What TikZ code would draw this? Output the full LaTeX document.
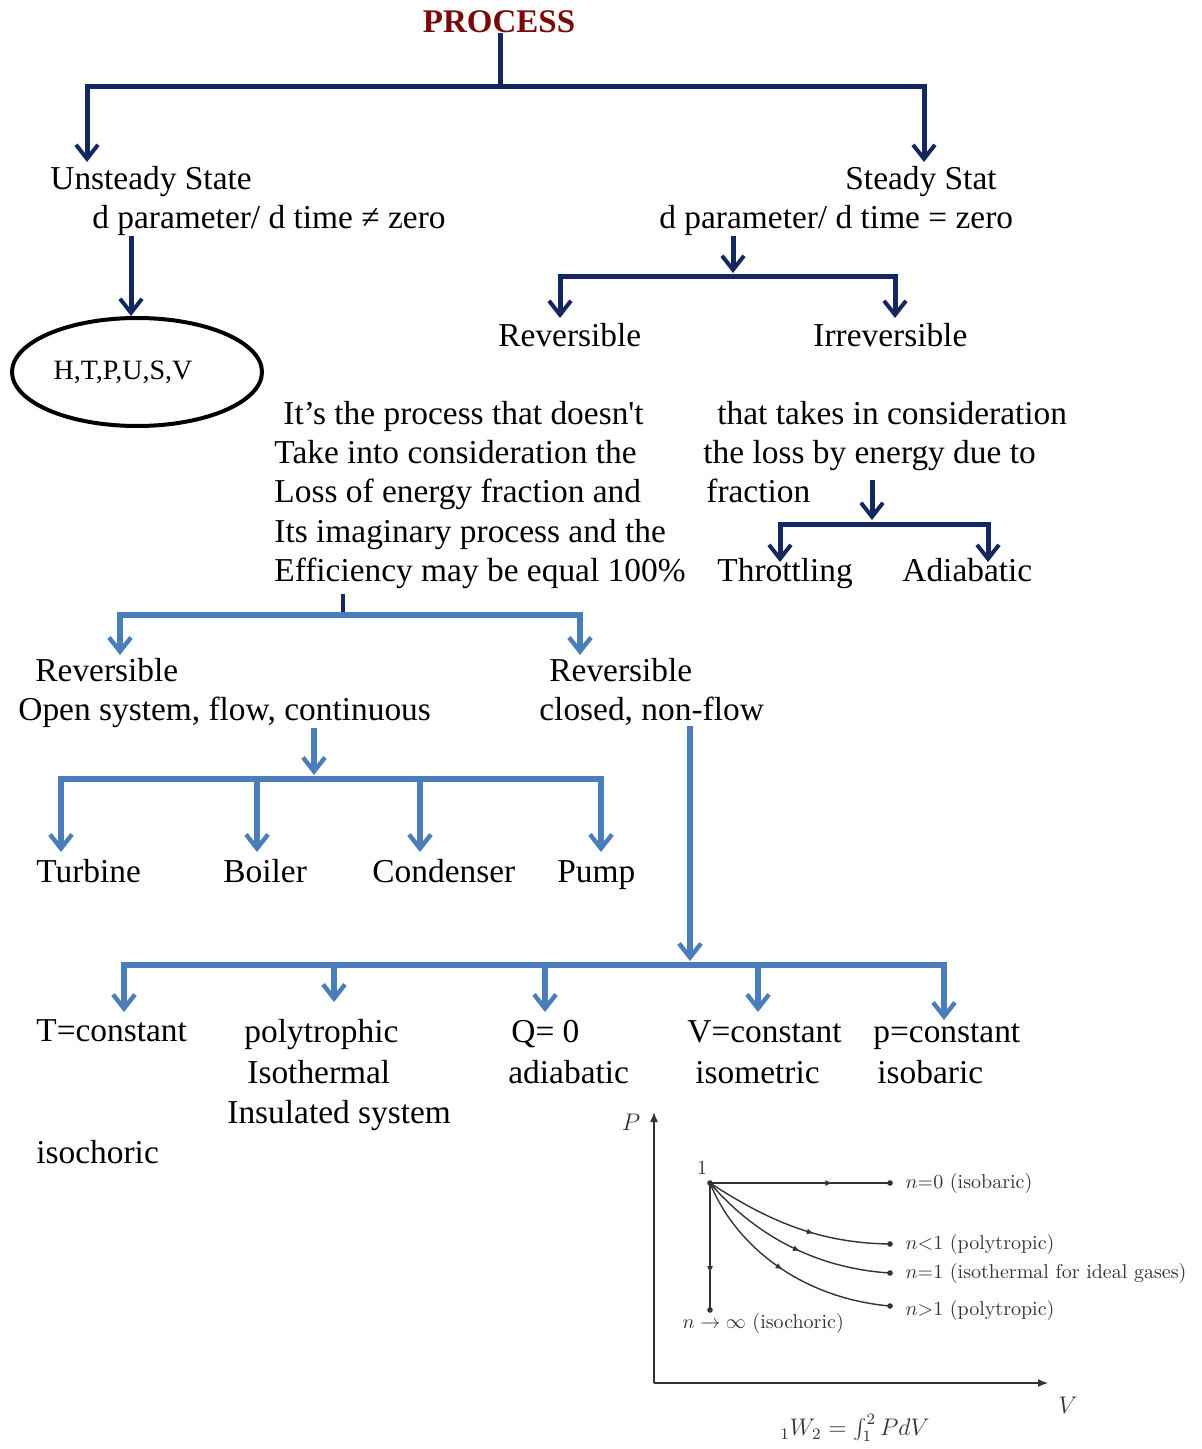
\documentclass[tikz,border=0pt]{standalone}
\usepackage[no-math]{fontspec}
\setmainfont{Liberation Serif}
\newfontfamily\lmfont{Latin Modern Roman}
\usetikzlibrary{arrows.meta,positioning,calc,decorations.markings,shapes.geometric}
\definecolor{navyline}{HTML}{13285E}
\definecolor{blueline}{HTML}{4A7EBB}
\definecolor{procred}{HTML}{7A0A0A}
\definecolor{plotgray}{HTML}{333333}
\tikzset{
  txt/.style={font=\fontsize{16.7}{19.6}\selectfont, inner sep=0pt, anchor=north west, align=left},
  navy/.style={draw=navyline, line width=2.5pt},
  navyarrow/.style={navy, -{Straight Barb[length=7pt,width=11pt,line width=2pt]}},
  bluebar/.style={draw=blueline, line width=2.8pt},
  bluearrow/.style={bluebar, -{Straight Barb[length=7pt,width=11pt,line width=2.2pt]}},
  midarrow/.style={postaction={decorate},
    decoration={markings,mark=at position #1 with {\arrow{Latex[length=3.5pt,width=3pt]}}}},
  plotlab/.style={anchor=west, inner sep=0pt}
}

\begin{document}
\begin{tikzpicture}[x=0.5pt,y=-0.5pt]
  \useasboundingbox (0,0) rectangle (1202,1449);
  % top of the tree
  \node[font=\fontsize{16.5}{19}\selectfont\bfseries, text=procred, inner sep=0pt] (process) at (499,22) {PROCESS};
  \node[txt] (unsteady) at (50,166) {Unsteady State};
  \node[txt] (unsteadydef) at (92,205) {d parameter/ d time ≠ zero};
  \node[txt] (steady) at (845,166) {Steady Stat};
  \node[txt] (steadydef) at (659,205) {d parameter/ d time = zero};
  \coordinate (topbar) at (500,87);
  \coordinate (tipU) at (87,162);
  \coordinate (tipS) at (924,162);
  \draw[navy] (process.south -| topbar) -- (topbar);
  \draw[navyarrow] (topbar) -| (tipU);
  \draw[navyarrow] (topbar) -| (tipS);
  % unsteady branch
  \node[ellipse, draw, line width=2pt, minimum width=125pt, minimum height=54pt,
    font=\fontsize{14}{16}\selectfont, inner sep=0pt] (htpusv) at (137,372) {H,T,P,U,S,V\hspace*{14pt}};
  \draw[navyarrow] ([xshift=-3pt]htpusv.north |- unsteadydef.south) -- ([xshift=-3pt]htpusv.north);
  % steady branch
  \node[txt] (rev) at (498,323) {Reversible};
  \node[txt] (irrev) at (813,323) {Irreversible};
  \coordinate (steadybar) at (733,277);
  \coordinate (tipRev) at (560,318);
  \coordinate (tipIrr) at (895,318);
  \draw[navyarrow] (steadydef.south -| steadybar) -- ([yshift=2pt]steadybar);
  \draw[navyarrow] (steadybar) -| (tipRev);
  \draw[navyarrow] (steadybar) -| (tipIrr);
  \node[txt] (revtext) at (274,401) {\hspace*{4.5pt}It’s the process that doesn\textquotesingle t\\
    Take into consideration the\\Loss of energy fraction and\\
    Its imaginary process and the\\Efficiency may be equal 100\%};
  \node[txt] (irrevtext) at (703,401) {\hspace*{7pt}that takes in consideration\\
    the loss by energy due to\\\hspace*{1.5pt}fraction};
  \node[txt] (throttling) at (717,558) {Throttling};
  \node[txt] (adiabatic) at (902,558) {Adiabatic};
  \coordinate (irrevstem) at (872,480);
  \coordinate (irrevbar) at (872,524);
  \coordinate (tipThr) at (780,562);
  \coordinate (tipAdi) at (988,562);
  \draw[navyarrow] (irrevstem) -- ([yshift=2pt]irrevbar);
  \draw[navyarrow] (irrevbar) -| (tipThr);
  \draw[navyarrow] (irrevbar) -| (tipAdi);
  % reversible: open and closed
  \coordinate (revbar) at (343,615);
  \coordinate (revstub) at (343,594);
  \coordinate (tipOpen) at (120,655);
  \coordinate (tipClosed) at (580,655);
  \draw[draw=navyline, line width=1.8pt] (revstub) -- (revbar);
  \draw[bluearrow] (revbar) -| (tipOpen);
  \draw[bluearrow] (revbar) -| (tipClosed);
  \node[txt] (revopen) at (18,658) {\hspace*{8.5pt}Reversible\\Open system, flow, continuous};
  \node[txt] (revclosed) at (539,658) {\hspace*{5pt}Reversible\\closed, non-flow};
  % open system devices
  \node[txt] (turbine) at (36,859) {Turbine};
  \node[txt] (boiler) at (223,859) {Boiler};
  \node[txt] (condenser) at (372,859) {Condenser};
  \node[txt] (pump) at (557,859) {\vphantom{d}Pump};
  \coordinate (openbar) at (314,779);
  \draw[bluearrow] (revopen.south -| openbar) -- ([yshift=2pt]openbar);
  \foreach \x/\n in {61/turbine,257/boiler,420/condenser,601/pump}{
    \coordinate (tip\n) at (\x,852);
    \draw[bluearrow] (openbar) -| (tip\n);
  }
  % closed system processes
  \node[txt] (tconst) at (36,1019) {T=constant};
  \node[txt] (isochoric) at (36,1140) {isochoric};
  \node[txt, font=\fontsize{16.7}{20.3}\selectfont] (poly) at (227,1019)
    {\hspace*{8.5pt}polytrophic\\\hspace*{10pt}Isothermal\\Insulated system};
  \node[txt, font=\fontsize{16.7}{20.3}\selectfont] (qzero) at (508,1019) {\hspace*{1.5pt}Q= 0\vphantom{d}\\adiabatic};
  \node[txt, font=\fontsize{16.7}{20.3}\selectfont] (vconst) at (687,1019) {V=constant\vphantom{d}\\\hspace*{4pt}isometric};
  \node[txt, font=\fontsize{16.7}{20.3}\selectfont] (pconst) at (873,1019) {p=constant\vphantom{d}\\\hspace*{2pt}isobaric};
  \coordinate (closedbar) at (690,965);
  \draw[bluearrow] (revclosed.south -| closedbar) -- ([yshift=2pt]closedbar);
  \foreach \x/\y/\n in {124/1012/tconst,334/1002/poly,545/1012/qzero,758/1012/vconst,944/1020/pconst}{
    \coordinate (tip\n) at (\x,\y);
    \draw[bluearrow] (closedbar) -| (tip\n);
  }
  % P-V diagram
  \begin{scope}[draw=plotgray, line width=0.7pt, font=\lmfont\fontsize{10}{12}\selectfont]
    \coordinate (origin) at (654,1383);
    \coordinate (state1) at (710,1183);
    \draw[-{Latex[length=5pt,width=4pt]}] (origin) -- (654,1112);
    \draw[-{Latex[length=5pt,width=4pt]}] (origin) -- (1048,1383);
    \node[text=plotgray] (plabel) at (631,1122) {\fontsize{12}{14}\selectfont$P$};
    \node[text=plotgray] (vlabel) at (1068,1405) {\fontsize{13}{15}\selectfont$V$};
    \node[text=plotgray] (work) at (855,1428) {\fontsize{12}{14}\selectfont${}_1W_2=\int_1^2 PdV$};
    \node[text=plotgray, inner sep=0pt] (one) at (702,1168) {1};
    \draw[midarrow=0.68] (state1) -- (890,1183) coordinate (end0);
    \draw[midarrow=0.71] (state1) -- (710,1310) coordinate (endinf);
    \draw[midarrow=0.6] (state1) .. controls (770,1222) and (820,1243) .. (890,1244) coordinate (endlt);
    \draw[midarrow=0.55] (state1) .. controls (750,1230) and (810,1268) .. (890,1273) coordinate (endeq);
    \draw[midarrow=0.5] (state1) .. controls (735,1245) and (800,1298) .. (890,1306) coordinate (endgt);
    \foreach \p in {state1,end0,endinf,endlt,endeq,endgt}
      \fill[plotgray] (\p) circle (1.4pt);
    \node[plotlab, text=plotgray] (lab0) at (905,1183) {$n{=}0$ (isobaric)};
    \node[plotlab, text=plotgray] (lablt) at (905,1244) {$n{<}1$ (polytropic)};
    \node[plotlab, text=plotgray] (labeq) at (905,1273) {$n{=}1$ (isothermal for ideal gases)};
    \node[plotlab, text=plotgray] (labgt) at (905,1310) {$n{>}1$ (polytropic)};
    \node[plotlab, text=plotgray] (labinf) at (682,1323) {$n\to\infty$ (isochoric)};
  \end{scope}
\end{tikzpicture}
\end{document}
